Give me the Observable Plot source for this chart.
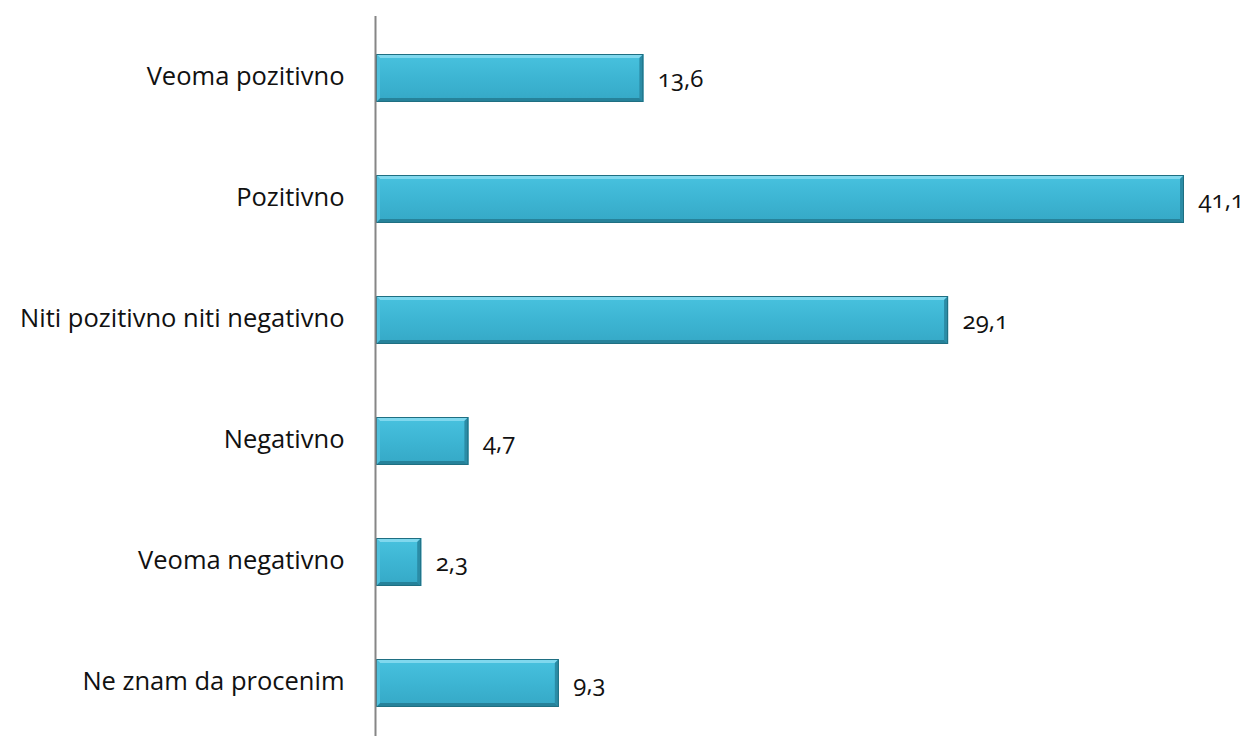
<!DOCTYPE html>
<html>
<head>
<meta charset="utf-8">
<script src="https://cdn.jsdelivr.net/npm/d3@7"></script>
<script src="https://cdn.jsdelivr.net/npm/@observablehq/plot@0.6"></script>
<style>
  html, body { margin: 0; padding: 0; background: #fff; overflow: hidden; }
  #chart svg { display: block; }
  .vals text { font-variant-numeric: oldstyle-nums; font-feature-settings: "onum" 1; }
</style>
</head>
<body>
<div id="chart"></div>
<script>
const categories = ["Veoma pozitivno", "Pozitivno", "Niti pozitivno niti negativno", "Negativno", "Veoma negativno", "Ne znam da procenim"];
const values = [13.6, 41.1, 29.1, 4.7, 2.3, 9.3];
const valueLabels = ["13,6", "41,1", "29,1", "4,7", "2,3", "9,3"];

const data = categories.map((c, i) => ({cat: c, value: values[i], label: valueLabels[i]}));

function bevel(index, scales, vals, dimensions, context, next) {
  const g = next(index, scales, vals, dimensions, context);
  const ns = "http://www.w3.org/2000/svg";
  const rects = Array.from(g.querySelectorAll("rect"));
  for (const rect of rects) {
    const x = +rect.getAttribute("x"), y = +rect.getAttribute("y");
    const w = +rect.getAttribute("width"), h = +rect.getAttribute("height");
    const b = Math.min(4, w / 2);
    const polys = [
      {pts: [[x, y], [x + w, y], [x + w - b, y + b], [x + b, y + b]], fill: "#7fd8ee"},
      {pts: [[x + w, y], [x + w, y + h], [x + w - b, y + h - b], [x + w - b, y + b]], fill: "#2b8ca6"},
      {pts: [[x, y + h], [x + w, y + h], [x + w - b, y + h - b], [x + b, y + h - b]], fill: "#26829a"},
      {pts: [[x, y], [x, y + h], [x + b, y + h - b], [x + b, y + b]], fill: "#4fc0dc"}
    ];
    for (const p of polys) {
      const el = document.createElementNS(ns, "polygon");
      el.setAttribute("points", p.pts.map(d => d.join(",")).join(" "));
      el.setAttribute("fill", p.fill);
      g.appendChild(el);
    }
    const o = document.createElementNS(ns, "rect");
    o.setAttribute("x", x + 0.5); o.setAttribute("y", y + 0.5);
    o.setAttribute("width", Math.max(0, w - 1)); o.setAttribute("height", h - 1);
    o.setAttribute("fill", "none");
    o.setAttribute("stroke", "#1f6f82");
    o.setAttribute("stroke-width", 1);
    g.appendChild(o);
  }
  return g;
}

const chart = Plot.plot({
  width: 1251,
  height: 736,
  marginTop: 16,
  marginBottom: 0,
  marginLeft: 0,
  marginRight: 0,
  style: {fontFamily: "'Open Sans', sans-serif", background: "#fff"},
  x: {domain: [0, 41.1], range: [376, 1184], axis: null},
  y: {domain: categories, range: [16, 744], paddingInner: 0.605, paddingOuter: 0.3025, axis: null},
  marks: [
    Plot.barX(data, {x: "value", y: "cat", fill: "url(#barGrad)", style: {filter: "url(#barShadow)"}, render: bevel}),
    Plot.ruleX([0], {stroke: "#868686", strokeWidth: 2, dx: -1}),
    Plot.text(data, {x: "value", y: "cat", text: "label", dx: 14, dy: 1, textAnchor: "start", fontSize: 24, fill: "#111", className: "vals"}),
    Plot.text(data, {x: 0, y: "cat", text: "cat", dx: -32, dy: -2, textAnchor: "end", fontSize: 25.5, fill: "#111"})
  ]
});

const ns = "http://www.w3.org/2000/svg";
const defs = document.createElementNS(ns, "defs");
defs.innerHTML = `
  <linearGradient id="barGrad" x1="0" y1="0" x2="0" y2="1">
    <stop offset="0" stop-color="#48c2df"/>
    <stop offset="0.5" stop-color="#3db5d3"/>
    <stop offset="1" stop-color="#35a8c6"/>
  </linearGradient>
  <filter id="barShadow" x="-10%" y="-20%" width="120%" height="160%">
    <feDropShadow dx="1" dy="4" stdDeviation="3" flood-color="#000" flood-opacity="0.3"/>
  </filter>`;
chart.insertBefore(defs, chart.firstChild);
document.getElementById("chart").appendChild(chart);
</script>
</body>
</html>
